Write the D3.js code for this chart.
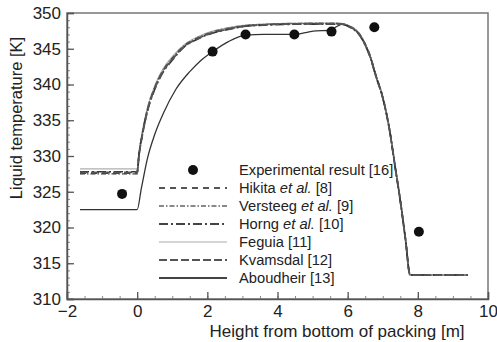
<!DOCTYPE html>
<html>
<head>
<meta charset="utf-8">
<script src="https://cdn.jsdelivr.net/npm/d3@7"></script>
<style>
  html, body { margin: 0; padding: 0; background: #fff; }
  svg { display: block; font-family: "Liberation Sans", Arial, sans-serif; }
</style>
</head>
<body>
<div id="chart"></div>
<script>
// ---------- Data ----------
const xTicks = [-2, 0, 2, 4, 6, 8, 10];
const yTicks = [310, 315, 320, 325, 330, 335, 340, 345, 350];

// shared heights for the five upper model curves
const upperX = [-1.63, 0, 0.05, 0.15, 0.3, 0.5, 0.75, 1.0, 1.35, 1.7, 2.1, 2.6, 3.1, 3.6, 4.2, 5.0, 5.7, 5.9, 6.05, 6.2, 6.35, 6.5, 6.65, 6.8, 7.0, 7.2, 7.35, 7.5, 7.65, 7.78, 9.42];
const hikitaT   = [327.6, 327.6, 330, 333, 336.5, 339.5, 342, 343.6, 345.4, 346.4, 347.2, 347.8, 348.2, 348.35, 348.45, 348.5, 348.5, 348.4, 348.1, 347.7, 346.9, 345.6, 343.8, 341.3, 338.2, 333.5, 328.6, 323.8, 318.3, 313.35, 313.35];
const versteegT = [327.5, 327.5, 330, 333.2, 336.7, 339.6, 342.1, 343.7, 345.5, 346.5, 347.3, 347.9, 348.25, 348.4, 348.5, 348.55, 348.55, 348.45, 348.15, 347.75, 347.0, 345.7, 343.9, 341.4, 338.3, 333.6, 328.7, 323.9, 318.4, 313.35, 313.35];
const horngT    = [327.8, 327.8, 330.2, 333.1, 336.4, 339.3, 341.8, 343.4, 345.3, 346.3, 347.1, 347.7, 348.15, 348.3, 348.4, 348.45, 348.45, 348.35, 348.05, 347.6, 346.8, 345.5, 343.7, 341.2, 338.1, 333.4, 328.5, 323.7, 318.2, 313.35, 313.35];
const feguiaT   = [328.2, 328.2, 330.4, 333.5, 336.9, 339.8, 342.3, 343.9, 345.6, 346.6, 347.4, 347.95, 348.3, 348.45, 348.55, 348.6, 348.6, 348.5, 348.2, 347.8, 347.0, 345.7, 343.9, 341.4, 338.3, 333.6, 328.7, 323.9, 318.4, 313.35, 313.35];
const kvamsdalT = [327.7, 327.7, 330, 333, 336.5, 339.4, 341.9, 343.5, 345.35, 346.35, 347.15, 347.75, 348.2, 348.35, 348.45, 348.5, 348.5, 348.4, 348.1, 347.65, 346.85, 345.55, 343.75, 341.25, 338.15, 333.45, 328.55, 323.75, 318.25, 313.35, 313.35];

const aboudheirX = [-1.63, 0, 0.12, 0.3, 0.5, 0.75, 1.1, 1.5, 1.8, 2.15, 2.6, 3.1, 3.6, 4.5, 4.8, 5.1, 5.45, 5.65, 5.85, 6.05, 6.2, 6.35, 6.5, 6.65, 6.8, 7.0, 7.2, 7.35, 7.5, 7.65, 7.78, 9.42];
const aboudheirT = [322.5, 322.5, 325.5, 329.8, 333, 336, 339.3, 341.8, 343.3, 344.6, 346.0, 346.9, 347.0, 347.0, 347.25, 347.5, 347.55, 348.0, 348.45, 348.1, 347.7, 346.9, 345.6, 343.8, 341.3, 338.2, 333.5, 328.6, 323.8, 318.3, 313.35, 313.35];

const expX = [-0.43, 2.15, 3.09, 4.48, 5.54, 6.76, 8.03];
const expT = [324.7, 344.6, 347.0, 347.0, 347.4, 348.0, 319.4];

// ---------- Series styling ----------
const series = [
  { name: "Feguia [11]",          ys: feguiaT,   color: "#b0b0b0", w: 1.2, dash: null },
  { name: "Versteeg et al. [9]",  ys: versteegT, color: "#777",    w: 1.6, dash: "5,2,1.5,2" },
  { name: "Hikita et al. [8]",    ys: hikitaT,   color: "#444",    w: 1.6, dash: "6,5" },
  { name: "Horng et al. [10]",    ys: horngT,    color: "#333",    w: 1.6, dash: "9,3,2,3" },
  { name: "Kvamsdal [12]",        ys: kvamsdalT, color: "#555",    w: 1.8, dash: "8,3" }
];

const legendRows = [
  { pre: "Hikita ",   it: "et al.", post: " [8]",  color: "#555", w: 1.8, dash: "6,5" },
  { pre: "Versteeg ", it: "et al.", post: " [9]",  color: "#888", w: 1.8, dash: "5,2,1.5,2" },
  { pre: "Horng ",    it: "et al.", post: " [10]", color: "#444", w: 1.8, dash: "9,3,2,3" },
  { pre: "Feguia [11]", it: "", post: "",          color: "#aaa", w: 1.2, dash: null },
  { pre: "Kvamsdal [12]", it: "", post: "",        color: "#555", w: 2,   dash: "8,3" },
  { pre: "Aboudheir [13]", it: "", post: "",       color: "#444", w: 2.2, dash: null }
];

// ---------- Chart ----------
const width = 497, height = 342;
const margin = { top: 13, right: 9, bottom: 43, left: 67 };
const font = "'Liberation Sans', Arial, sans-serif";

const svg = d3.select("#chart").append("svg")
  .attr("width", width).attr("height", height);

const x = d3.scaleLinear().domain([-2, 10]).range([margin.left, width - margin.right]);
const y = d3.scaleLinear().domain([310, 350]).range([height - margin.bottom, margin.top]);

// frame
svg.append("rect")
  .attr("x", x(-2)).attr("y", y(350))
  .attr("width", x(10) - x(-2)).attr("height", y(310) - y(350))
  .attr("fill", "none").attr("stroke", "#777").attr("stroke-width", 1.5);

// minor ticks
svg.append("g")
  .attr("transform", `translate(0,${y(310)})`)
  .call(d3.axisBottom(x).tickValues(d3.range(-2, 10.01, 0.5)).tickSize(-3).tickFormat(""))
  .call(g => g.select(".domain").remove())
  .call(g => g.selectAll("line").attr("stroke", "#888"));

svg.append("g")
  .attr("transform", `translate(${x(-2)},0)`)
  .call(d3.axisLeft(y).tickValues(d3.range(310, 350.01, 1)).tickSize(-3).tickFormat(""))
  .call(g => g.select(".domain").remove())
  .call(g => g.selectAll("line").attr("stroke", "#888"));

// major ticks
svg.append("g")
  .attr("transform", `translate(0,${y(310)})`)
  .call(d3.axisBottom(x).tickValues(xTicks).tickSize(-7).tickPadding(4)
    .tickFormat(d => d < 0 ? "\u2212" + Math.abs(d) : d))
  .call(g => g.select(".domain").attr("stroke", "#555").attr("stroke-width", 1.5))
  .call(g => g.selectAll("line").attr("stroke", "#555").attr("stroke-width", 1.3))
  .call(g => g.selectAll("text").attr("font-size", 17).attr("fill", "#222")
    .attr("font-family", font).attr("dy", "0.8em"));

svg.append("g")
  .attr("transform", `translate(${x(-2)},0)`)
  .call(d3.axisLeft(y).tickValues(yTicks).tickSize(-7).tickPadding(6))
  .call(g => g.select(".domain").attr("stroke", "#555").attr("stroke-width", 1.5))
  .call(g => g.selectAll("line").attr("stroke", "#555").attr("stroke-width", 1.3))
  .call(g => g.selectAll("text").attr("font-size", 17).attr("fill", "#222")
    .attr("font-family", font));

// axis labels
svg.append("text")
  .attr("x", 337).attr("y", 337)
  .attr("text-anchor", "middle").attr("font-size", 17).attr("fill", "#222")
  .text("Height from bottom of packing [m]");

svg.append("text")
  .attr("transform", `translate(22,118) rotate(-90)`)
  .attr("text-anchor", "middle").attr("font-size", 16.5).attr("fill", "#222")
  .text("Liquid temperature [K]");

// curves
const line = d3.line().curve(d3.curveMonotoneX);

svg.append("path")
  .attr("d", line(aboudheirX.map((v, i) => [x(v), y(aboudheirT[i])])))
  .attr("fill", "none").attr("stroke", "#333").attr("stroke-width", 1.3);

series.forEach(s => {
  svg.append("path")
    .attr("d", line(upperX.map((v, i) => [x(v), y(s.ys[i])])))
    .attr("fill", "none").attr("stroke", s.color)
    .attr("stroke-width", s.w)
    .attr("stroke-dasharray", s.dash);
});

// experimental points
svg.append("g").selectAll("circle")
  .data(expX.map((v, i) => [v, expT[i]]))
  .join("circle")
  .attr("cx", d => x(d[0])).attr("cy", d => y(d[1]))
  .attr("r", 5).attr("fill", "#111");

// legend
const lg = svg.append("g").attr("font-size", 14.7).attr("fill", "#222");
const lx0 = 159, lx1 = 227, tx = 239, ly0 = 170, dy = 18;

lg.append("circle").attr("cx", (lx0 + lx1) / 2).attr("cy", ly0).attr("r", 5).attr("fill", "#111");
lg.append("text").attr("x", tx).attr("y", ly0).attr("dy", "0.35em").text("Experimental result [16]");

legendRows.forEach((r, i) => {
  const yy = ly0 + dy * (i + 1);
  lg.append("line")
    .attr("x1", lx0).attr("x2", lx1).attr("y1", yy).attr("y2", yy)
    .attr("stroke", r.color).attr("stroke-width", r.w)
    .attr("stroke-dasharray", r.dash);
  const t = lg.append("text").attr("x", tx).attr("y", yy).attr("dy", "0.35em");
  t.append("tspan").text(r.pre);
  if (r.it) t.append("tspan").attr("font-style", "italic").text(r.it);
  if (r.post) t.append("tspan").text(r.post);
});
</script>
</body>
</html>
